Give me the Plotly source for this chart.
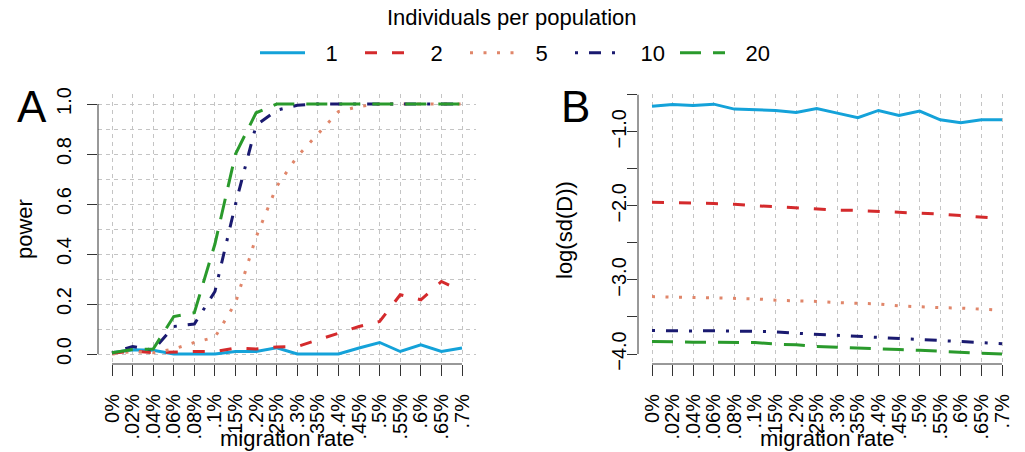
import plotly.graph_objects as go

categories = ["0%", ".02%", ".04%", ".06%", ".08%", ".1%", ".15%", ".2%", ".25%",
              ".3%", ".35%", ".4%", ".45%", ".5%", ".55%", ".6%", ".65%", ".7%"]
series_names = ["1", "2", "5", "10", "20"]

# Panel A: power
power_1 = [0.005, 0.017, 0.015, 0.0, 0.0, 0.0, 0.01, 0.01, 0.025, 0.0, 0.0, 0.0,
           0.024, 0.046, 0.01, 0.037, 0.01, 0.024]
power_2 = [0.003, 0.012, 0.005, 0.008, 0.01, 0.01, 0.024, 0.02, 0.028, 0.03, 0.055,
           0.083, 0.11, 0.13, 0.237, 0.217, 0.29, 0.25]
power_5 = [0.0, 0.01, 0.005, 0.02, 0.046, 0.067, 0.205, 0.468, 0.67, 0.79, 0.88,
           0.97, 0.99, 1.0, 1.0, 1.0, 1.0, 1.0]
power_10 = [0.004, 0.03, 0.015, 0.11, 0.12, 0.25, 0.60, 0.915, 0.975, 0.995, 1.0,
            1.0, 1.0, 1.0, 1.0, 1.0, 1.0, 1.0]
power_20 = [0.005, 0.018, 0.02, 0.15, 0.165, 0.44, 0.80, 0.965, 1.0, 1.0, 1.0,
            1.0, 1.0, 1.0, 1.0, 1.0, 1.0, 1.0]

# Panel B: log(sd(D))
sd_1 = [-0.654, -0.631, -0.644, -0.627, -0.694, -0.698, -0.712, -0.739, -0.685,
        -0.748, -0.811, -0.712, -0.779, -0.721, -0.838, -0.879, -0.838, -0.838]
sd_2 = [-1.951, -1.955, -1.964, -1.968, -1.978, -2.0, -2.009, -2.023, -2.045,
        -2.058, -2.062, -2.077, -2.09, -2.1, -2.112, -2.13, -2.157, -2.172]
sd_5 = [-3.225, -3.23, -3.23, -3.235, -3.247, -3.255, -3.274, -3.28, -3.29,
        -3.305, -3.31, -3.325, -3.35, -3.365, -3.375, -3.38, -3.395, -3.41]
sd_10 = [-3.683, -3.69, -3.69, -3.685, -3.69, -3.695, -3.70, -3.72, -3.735,
         -3.745, -3.76, -3.775, -3.795, -3.81, -3.82, -3.835, -3.85, -3.86]
sd_20 = [-3.831, -3.84, -3.84, -3.84, -3.84, -3.845, -3.867, -3.876, -3.898,
         -3.906, -3.915, -3.93, -3.94, -3.95, -3.965, -3.982, -3.99, -4.0]

power_ticks = [0.0, 0.2, 0.4, 0.6, 0.8, 1.0]
power_grid = [0.0, 0.1, 0.2, 0.3, 0.4, 0.5, 0.6, 0.7, 0.8, 0.9, 1.0]
sd_ticks = [-4.0, -3.5, -3.0, -2.5, -2.0, -1.5, -1.0, -0.5]
sd_ticktext = ["\u22124.0", "", "\u22123.0", "", "\u22122.0", "", "\u22121.0", ""]

colors = ["#14A2D9", "#D42A2C", "#E0866A", "#1A1A70", "#2A9A2C"]
dashes = ["solid", "12px,15px", "3px,10.5px", "3px,11px,12px,11px", "21px,12px"]

FONT = "Liberation Sans, Arial, sans-serif"
W, H = 1025, 452
xs = list(range(len(categories)))


# Plotly centres -90deg labels; pad at the start (bottom) so the tops line up like R
def pad_label(s, width=4):
    out = s
    if not out.startswith("."):
        out = "\u2008" + out          # punctuation space (width of '.')
    missing = width - len(out)
    return "\u2007" * max(missing, 0) + out  # figure spaces (digit width)


tick_text = [pad_label(c) for c in categories]

fig = go.Figure()
power_series = [power_1, power_2, power_5, power_10, power_20]
sd_series = [sd_1, sd_2, sd_5, sd_10, sd_20]
LEG_PAD = "\u2002\u2009"
for i, name in enumerate(series_names):
    fig.add_trace(go.Scatter(x=xs, y=power_series[i], mode="lines", name=LEG_PAD + name,
                             line=dict(color=colors[i], width=3, dash=dashes[i]),
                             xaxis="x", yaxis="y", legendgroup=name, showlegend=True))
for i, name in enumerate(series_names):
    fig.add_trace(go.Scatter(x=xs, y=sd_series[i], mode="lines", name=name,
                             line=dict(color=colors[i], width=3, dash=dashes[i]),
                             xaxis="x2", yaxis="y2", legendgroup=name, showlegend=False))

grid_col = "#c4c4c4"
grid_dash = "4px,4px"
xrange = [-0.68, len(categories) - 1 + 0.68]
common_x = dict(range=xrange, tickmode="array", tickvals=xs, ticktext=tick_text,
                tickangle=-90, ticks="outside", ticklen=11, tickwidth=1, tickcolor="#333",
                showline=False, zeroline=False, showgrid=True, gridcolor=grid_col,
                griddash=grid_dash, gridwidth=1, automargin=False,
                tickfont=dict(family=FONT, size=20, color="black"), ticklabelstandoff=10)

fig.update_layout(
    template="none",
    width=W, height=H, margin=dict(l=0, r=0, t=0, b=0, pad=0, autoexpand=False),
    paper_bgcolor="white", plot_bgcolor="white",
    font=dict(family=FONT, color="black"),
    xaxis=dict(domain=[98 / W, 476 / W], anchor="y", **common_x),
    xaxis2=dict(domain=[638 / W, 1016 / W], anchor="y2", **common_x),
    yaxis=dict(domain=[88 / H, 358 / H], anchor="x", range=[-0.04, 1.04],
               tickmode="array", tickvals=power_ticks,
               ticktext=["%.1f" % v for v in power_ticks],
               tickangle=-90, ticks="outside", ticklen=10, tickcolor="#333",
               showline=False, zeroline=False, showgrid=True, gridcolor=grid_col,
               griddash=grid_dash, automargin=False,
               minor=dict(tickmode="array", tickvals=power_grid, showgrid=True,
                          gridcolor=grid_col, griddash=grid_dash, ticks=""),
               tickfont=dict(family=FONT, size=20, color="black"), ticklabelstandoff=8),
    # panel B: labels sit closer to the axis; short major ticks set the label offset,
    # full-length marks are drawn as minor ticks at the same values
    yaxis2=dict(domain=[88 / H, 358 / H], anchor="x2", range=[-4.135, -0.49],
                tickmode="array", tickvals=sd_ticks, ticktext=sd_ticktext,
                tickangle=-90, ticks="outside", ticklen=3, tickcolor="#333",
                showline=False, zeroline=False, showgrid=False, automargin=False,
                minor=dict(tickmode="array", tickvals=sd_ticks, ticks="outside",
                           ticklen=10, tickcolor="#333", showgrid=False),
                tickfont=dict(family=FONT, size=20, color="black")),
    legend=dict(orientation="h", x=0.5 + 5 / W, xanchor="center", y=1 - 53 / H,
                yanchor="middle",
                font=dict(family=FONT, size=22, color="black"),
                entrywidth=45, entrywidthmode="pixels", itemwidth=45,
                bgcolor="rgba(0,0,0,0)", borderwidth=0),
    showlegend=True,
)

# R-style axis lines spanning only the tick range
line_style = dict(color="#333", width=1)
fig.add_shape(type="line", xref="x domain", yref="y", x0=0, x1=0,
              y0=power_ticks[0], y1=power_ticks[-1], line=line_style)
fig.add_shape(type="line", xref="x2 domain", yref="y2", x0=0, x1=0,
              y0=sd_ticks[0], y1=sd_ticks[-1], line=line_style)
fig.add_shape(type="line", xref="x", yref="y domain", x0=xs[0], x1=xs[-1],
              y0=0, y1=0, line=line_style)
fig.add_shape(type="line", xref="x2", yref="y2 domain", x0=xs[0], x1=xs[-1],
              y0=0, y1=0, line=line_style)


def label(text, px, py, size=22, angle=0):
    return dict(text=text, x=px / W, y=1 - py / H, xref="paper", yref="paper",
                xanchor="center", yanchor="middle", textangle=angle,
                showarrow=False, font=dict(family=FONT, size=size, color="black"))


fig.update_layout(annotations=[
    label("Individuals per population", 512, 18),
    label("power", 25, 229, angle=-90),
    label("log(sd(D))", 564, 230, angle=-90),
    label("migration rate", 287, 438),
    label("migration rate", 827, 438),
    label("A", 32, 107, size=44),
    label("B", 575, 107, size=44),
])

fig.write_html("out.html", config={"displayModeBar": False},
               post_script="document.body.style.margin='0';")
